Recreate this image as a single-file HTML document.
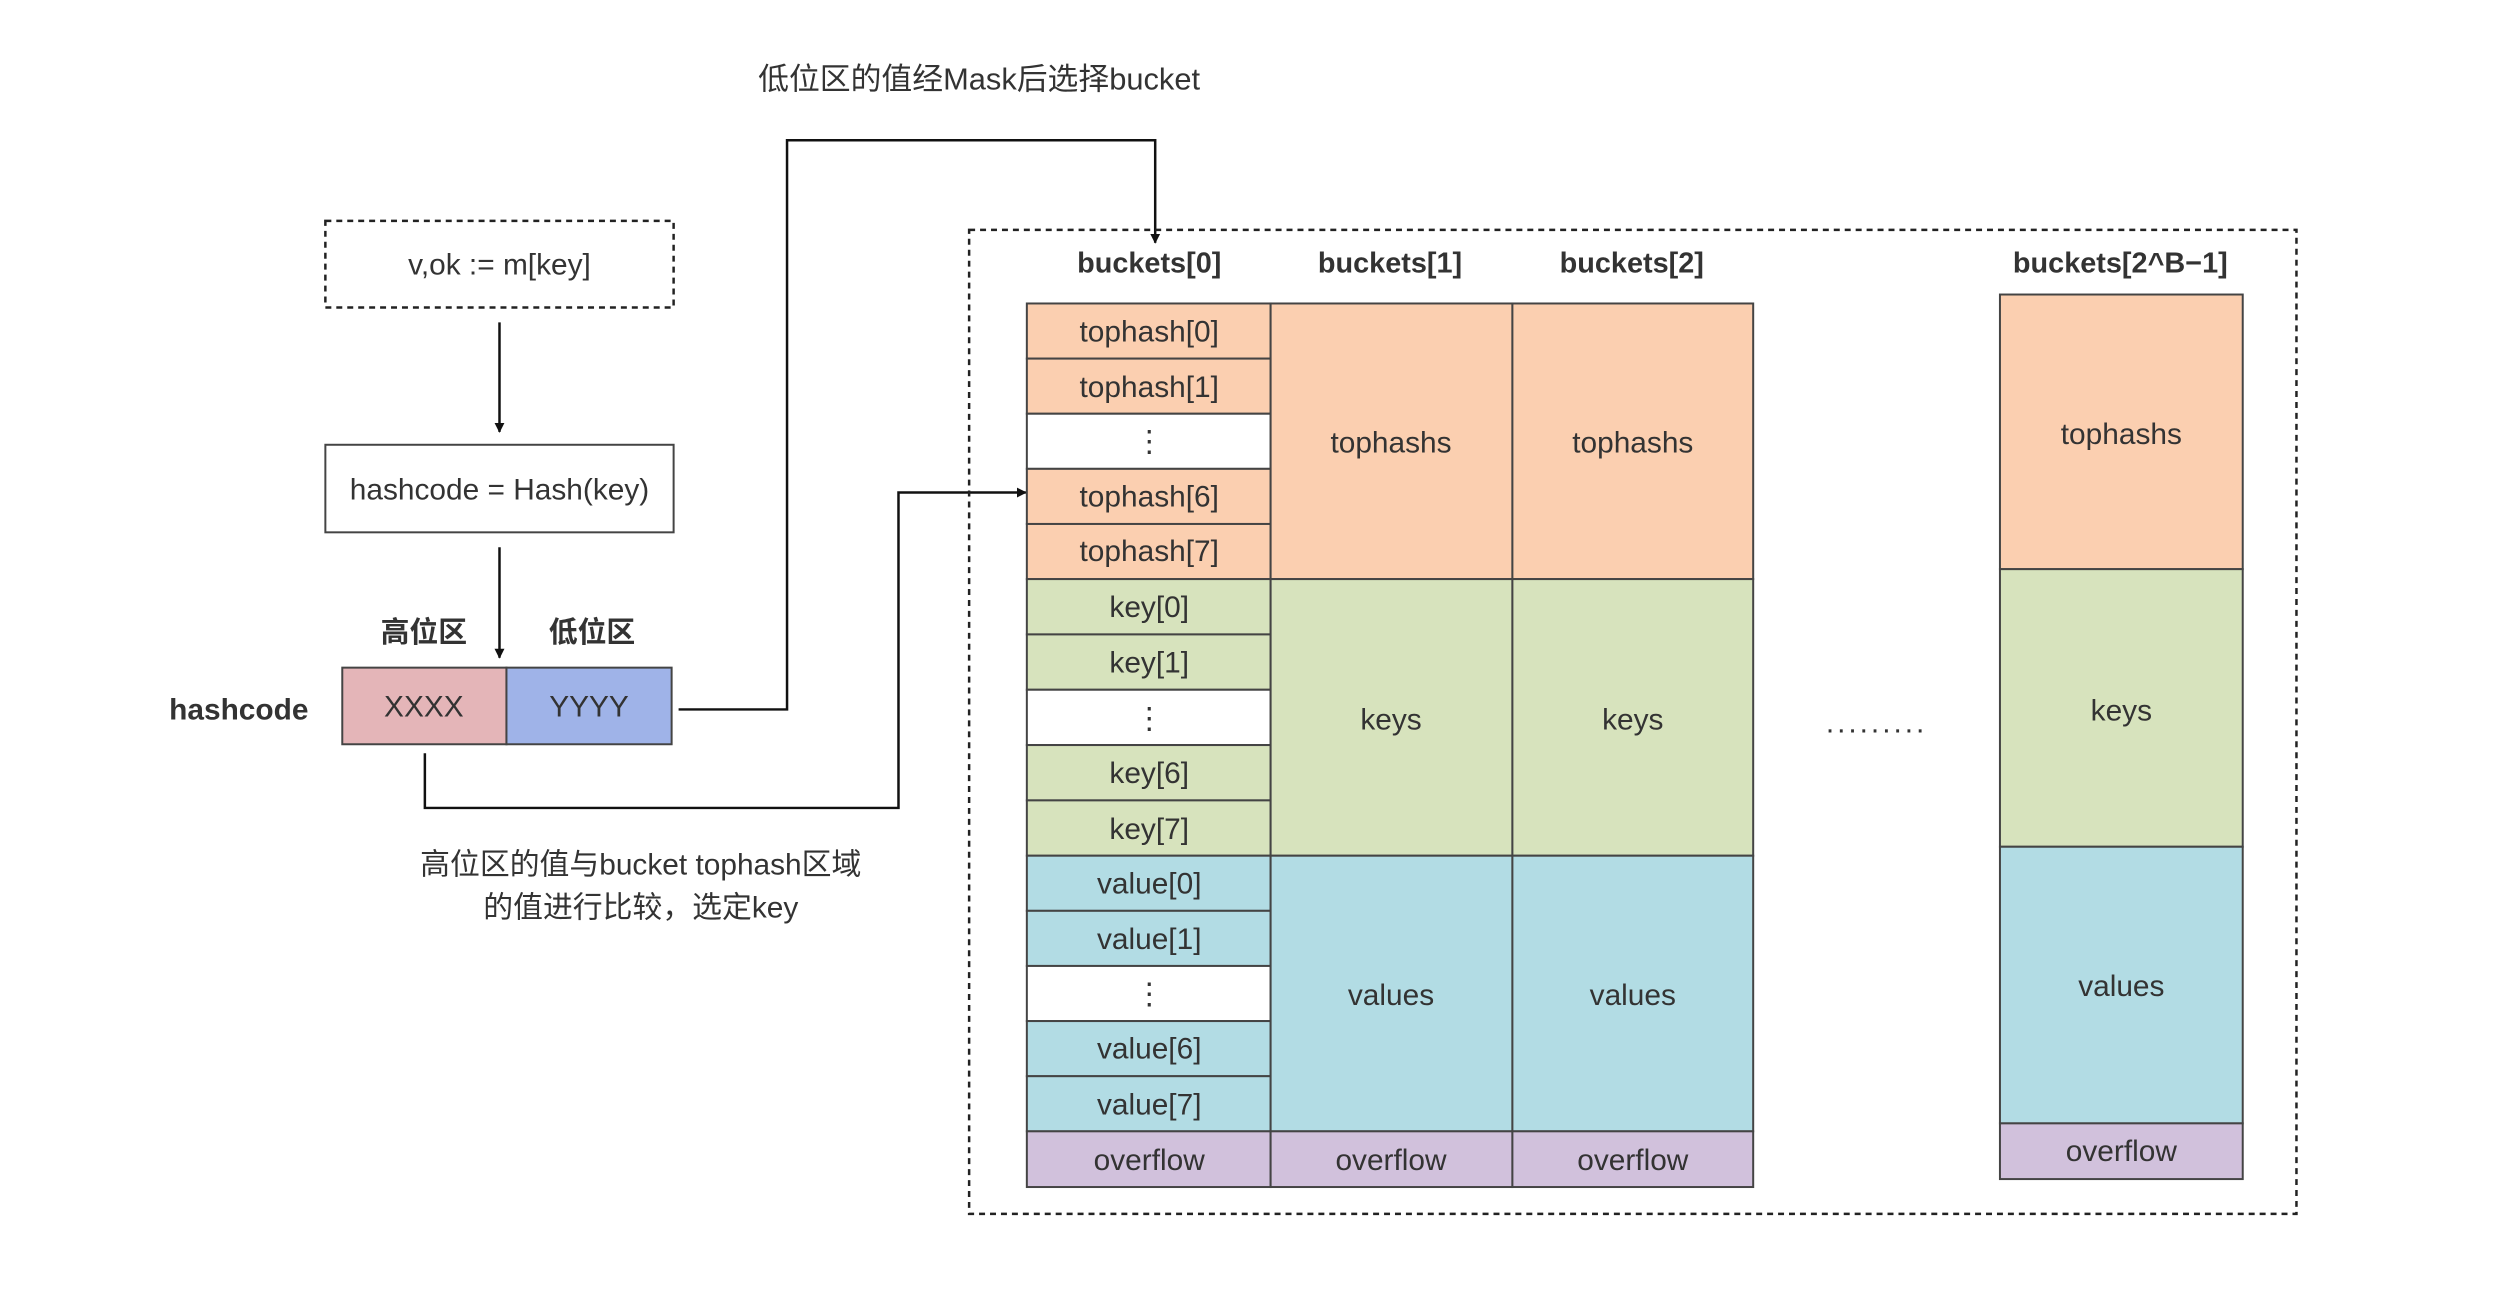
<!DOCTYPE html>
<html><head><meta charset="utf-8"><style>
html,body{margin:0;padding:0;background:#fff;}
svg{display:block;}
text{font-family:"Liberation Sans","Noto Sans CJK SC",sans-serif;fill:#333;}
</style></head><body>
<svg width="2508" height="1298" viewBox="0 0 2508 1298" xmlns="http://www.w3.org/2000/svg">
<defs><marker id="ah" markerWidth="10" markerHeight="10" refX="9" refY="5" orient="auto" markerUnits="userSpaceOnUse"><path d="M0,0 L10,5 L0,10 z" fill="#111"/></marker></defs>
<g transform="scale(0.995)">
<text x="984" y="90" font-size="31" text-anchor="middle">低位区的值经Mask后选择bucket</text>

<rect x="327" y="222" width="350" height="87" fill="none" stroke="#222" stroke-width="2.5" stroke-dasharray="6,5"/>
<text x="502" y="276" font-size="30" text-anchor="middle">v,ok := m[key]</text>
<line x1="502" y1="324" x2="502" y2="434" stroke="#111" stroke-width="2.5" marker-end="url(#ah)"/>

<rect x="327" y="447" width="350" height="88" fill="#fff" stroke="#444" stroke-width="2"/>
<text x="502" y="502" font-size="30" text-anchor="middle">hashcode = Hash(key)</text>
<line x1="502" y1="550" x2="502" y2="661" stroke="#111" stroke-width="2.5" marker-end="url(#ah)"/>

<text x="426" y="645" font-size="29" font-weight="bold" text-anchor="middle">高位区</text>
<text x="595" y="645" font-size="29" font-weight="bold" text-anchor="middle">低位区</text>
<text x="240" y="723" font-size="30" font-weight="bold" text-anchor="middle">hashcode</text>
<rect x="344" y="671" width="165" height="77" fill="#e4b5b8" stroke="#444" stroke-width="2"/>
<rect x="509" y="671" width="166" height="77" fill="#9fb3e8" stroke="#444" stroke-width="2"/>
<text x="426" y="720" font-size="30" text-anchor="middle">XXXX</text>
<text x="592" y="720" font-size="30" text-anchor="middle">YYYY</text>

<polyline points="682,713 791,713 791,141 1161,141 1161,244" fill="none" stroke="#111" stroke-width="2.5" marker-end="url(#ah)"/>
<polyline points="427,757 427,812 903,812 903,495 1031,495" fill="none" stroke="#111" stroke-width="2.5" marker-end="url(#ah)"/>

<text x="644" y="879" font-size="30" text-anchor="middle">高位区的值与bucket tophash区域</text>
<text x="644" y="922" font-size="30" text-anchor="middle">的值进行比较，选定key</text>

<rect x="974" y="231" width="1334" height="989" fill="none" stroke="#222" stroke-width="2.5" stroke-dasharray="6,5"/>

<g font-size="29" font-weight="bold" text-anchor="middle">
<text x="1155" y="274">buckets[0]</text>
<text x="1397" y="274">buckets[1]</text>
<text x="1640" y="274">buckets[2]</text>
<text x="2131" y="274">buckets[2^B−1]</text>
</g>

<g stroke="#444" stroke-width="2">
<rect x="1032" y="305" width="245" height="55.4" fill="#fbcfb0"/>
<rect x="1032" y="360.4" width="245" height="55.4" fill="#fbcfb0"/>
<rect x="1032" y="415.8" width="245" height="55.4" fill="#fff"/>
<rect x="1032" y="471.2" width="245" height="55.4" fill="#fbcfb0"/>
<rect x="1032" y="526.6" width="245" height="55.4" fill="#fbcfb0"/>
<rect x="1032" y="582" width="245" height="55.6" fill="#d7e3bd"/>
<rect x="1032" y="637.6" width="245" height="55.6" fill="#d7e3bd"/>
<rect x="1032" y="693.2" width="245" height="55.6" fill="#fff"/>
<rect x="1032" y="748.8" width="245" height="55.6" fill="#d7e3bd"/>
<rect x="1032" y="804.4" width="245" height="55.6" fill="#d7e3bd"/>
<rect x="1032" y="860" width="245" height="55.4" fill="#b2dce4"/>
<rect x="1032" y="915.4" width="245" height="55.4" fill="#b2dce4"/>
<rect x="1032" y="970.8" width="245" height="55.4" fill="#fff"/>
<rect x="1032" y="1026.2" width="245" height="55.4" fill="#b2dce4"/>
<rect x="1032" y="1081.6" width="245" height="55.4" fill="#b2dce4"/>
<rect x="1032" y="1137" width="245" height="56" fill="#d1c1dc"/>
<rect x="1277" y="305" width="243" height="277" fill="#fbcfb0"/>
<rect x="1277" y="582" width="243" height="278" fill="#d7e3bd"/>
<rect x="1277" y="860" width="243" height="277" fill="#b2dce4"/>
<rect x="1277" y="1137" width="243" height="56" fill="#d1c1dc"/>
<rect x="1520" y="305" width="242" height="277" fill="#fbcfb0"/>
<rect x="1520" y="582" width="242" height="278" fill="#d7e3bd"/>
<rect x="1520" y="860" width="242" height="277" fill="#b2dce4"/>
<rect x="1520" y="1137" width="242" height="56" fill="#d1c1dc"/>
<rect x="2010" y="296" width="244" height="276" fill="#fbcfb0"/>
<rect x="2010" y="572" width="244" height="279" fill="#d7e3bd"/>
<rect x="2010" y="851" width="244" height="278" fill="#b2dce4"/>
<rect x="2010" y="1129" width="244" height="56" fill="#d1c1dc"/>
</g>

<g font-size="30" text-anchor="middle">
<text x="1155" y="343">tophash[0]</text>
<text x="1155" y="399">tophash[1]</text>
<text x="1155" y="454">⋮</text>
<text x="1155" y="509">tophash[6]</text>
<text x="1155" y="564">tophash[7]</text>
<text x="1155" y="620">key[0]</text>
<text x="1155" y="676">key[1]</text>
<text x="1155" y="732">⋮</text>
<text x="1155" y="787">key[6]</text>
<text x="1155" y="843">key[7]</text>
<text x="1155" y="898">value[0]</text>
<text x="1155" y="954">value[1]</text>
<text x="1155" y="1009">⋮</text>
<text x="1155" y="1064">value[6]</text>
<text x="1155" y="1120">value[7]</text>
<text x="1155" y="1176">overflow</text>
<text x="1398" y="455">tophashs</text>
<text x="1398" y="733">keys</text>
<text x="1398" y="1010">values</text>
<text x="1398" y="1176">overflow</text>
<text x="1641" y="455">tophashs</text>
<text x="1641" y="733">keys</text>
<text x="1641" y="1010">values</text>
<text x="1641" y="1176">overflow</text>
<text x="2132" y="446">tophashs</text>
<text x="2132" y="724">keys</text>
<text x="2132" y="1001">values</text>
<text x="2132" y="1167">overflow</text>
<text x="1886" y="736" letter-spacing="3">.........</text>
</g>
</g>
</svg>
</body></html>
